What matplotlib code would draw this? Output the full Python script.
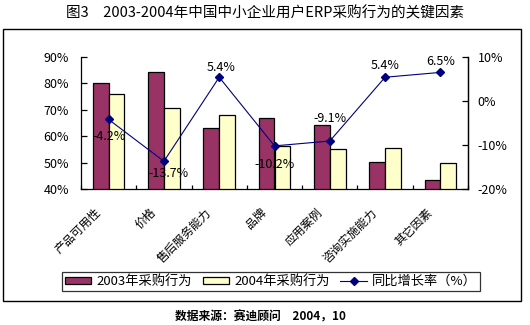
import matplotlib
matplotlib.use('Agg')
import matplotlib.pyplot as plt
import matplotlib.transforms as mtransforms
from matplotlib.patches import Rectangle
from matplotlib.ticker import FuncFormatter
import numpy as np

plt.rcParams['font.family'] = ['Noto Sans CJK SC', 'DejaVu Sans']

categories = ['产品可用性', '价格', '售后服务能力', '品牌', '应用案例', '咨询实施能力', '其它因素']
buy_2003 = [80.0, 84.3, 63.0, 66.8, 64.1, 50.1, 43.4]
buy_2004 = [76.0, 70.6, 68.0, 56.3, 55.0, 55.4, 49.7]
growth = [-4.2, -13.7, 5.4, -10.2, -9.1, 5.4, 6.5]
growth_labels = ['-4.2%', '-13.7%', '5.4%', '-10.2%', '-9.1%', '5.4%', '6.5%']
left_ticks = [40, 50, 60, 70, 80, 90]
right_ticks = [-20, -10, 0, 10]
series_names = ['2003年采购行为', '2004年采购行为', '同比增长率（%）']
title = '图3　2003-2004年中国中小企业用户ERP采购行为的关键因素'
source = '数据来源：赛迪顾问　2004，10'

W, H = 530, 325
fig = plt.figure(figsize=(W / 100, H / 100), dpi=100)
fig.patch.set_facecolor('white')

# chart border
fig.add_artist(Rectangle((3 / W, 1 - 301 / H), 518 / W, 272 / H, transform=fig.transFigure,
                         fill=False, edgecolor='black', linewidth=1.0))

ax = fig.add_axes([81 / W, 1 - 189 / H, 387 / W, 132 / H])
x = np.arange(len(categories))
bw = 1 / 3.5
ax.bar(x - bw / 2, buy_2003, width=bw, color='#993366', edgecolor='black', linewidth=0.9,
       label=series_names[0], zorder=2)
ax.bar(x + bw / 2, buy_2004, width=bw, color='#FFFFCC', edgecolor='black', linewidth=0.9,
       label=series_names[1], zorder=2)
ax.set_ylim(40, 90)
ax.set_xlim(-0.5, len(categories) - 0.5)
ax.set_yticks(left_ticks)
ax.yaxis.set_major_formatter(FuncFormatter(lambda v, p: '%d%%' % v))
ax.tick_params(axis='y', direction='in', length=4, width=0.9, pad=8.5, labelsize=9)
ax.set_xticks([])
ax.set_xticks(np.arange(len(categories) + 1) - 0.5, minor=True)
ax.tick_params(axis='x', which='minor', direction='in', length=3, width=0.9)
for s in ['left', 'bottom', 'right']:
    ax.spines[s].set_linewidth(0.9)
ax.spines['top'].set_visible(False)

ax2 = ax.twinx()
ax2.plot(x, growth, color='#000080', linewidth=0.8, marker='D', markersize=4.5,
         markerfacecolor='#000080', markeredgecolor='#000080', label=series_names[2], zorder=3)
ax2.set_ylim(-20, 10)
ax2.set_yticks(right_ticks)
ax2.yaxis.set_major_formatter(FuncFormatter(lambda v, p: '%d%%' % v))
ax2.tick_params(axis='y', direction='in', length=4, width=0.9, pad=7, labelsize=9)
ax2.spines['top'].set_visible(False)
ax2.spines['right'].set_linewidth(0.9)
ax2.spines['left'].set_visible(False)
ax2.spines['bottom'].set_visible(False)

offsets = [(0, -17), (5, -12), (2, 10), (0, -19), (0, 23), (0, 12), (0, 11)]
for i, (g, lab) in enumerate(zip(growth, growth_labels)):
    ax2.annotate(lab, xy=(x[i], g), xytext=offsets[i], textcoords='offset pixels',
                 ha='center', va='center', fontsize=9, color='black', zorder=4)

trans = mtransforms.blended_transform_factory(ax.transData, ax.transAxes)
for i, c in enumerate(categories):
    ax.annotate(c, xy=(x[i], 0), xycoords=trans, xytext=(-5, -17), textcoords='offset pixels',
                rotation=45, ha='right', va='top', fontsize=8.5)

fig.text(0.5, 1 - 13 / H, title, ha='center', va='center', fontsize=10.5)
fig.text(260 / W, 1 - 317 / H, source, ha='center', va='center', fontsize=8.5, fontweight='bold')

h1, l1 = ax.get_legend_handles_labels()
h2, l2 = ax2.get_legend_handles_labels()
leg = fig.legend(h1 + h2, l1 + l2, loc='center', bbox_to_anchor=(271 / W, 1 - 281.5 / H), ncol=3,
                 fontsize=9.5, frameon=True, fancybox=False, edgecolor='black', borderpad=0.2,
                 borderaxespad=0, handlelength=2.0, handletextpad=0.4, columnspacing=0.8,
                 handleheight=0.5)
leg.get_frame().set_linewidth(0.9)

fig.savefig('out.png', dpi=100, facecolor='white')
